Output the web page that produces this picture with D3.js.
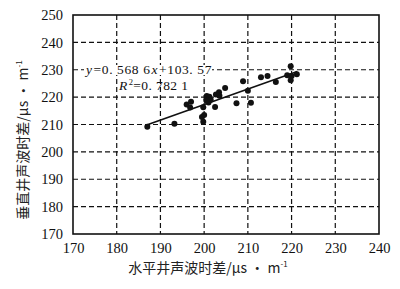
<!DOCTYPE html>
<html>
<head>
<meta charset="utf-8">
<script src="https://cdn.jsdelivr.net/npm/d3@7"></script>
<style>
  body { margin: 0; background: #fff; }
  svg { display: block; }
  .tick text { font-family: "Liberation Serif", "DejaVu Serif", serif; font-size: 14.5px; fill: #111; }
</style>
</head>
<body>
<div id="chart"></div>
<script>
// 水平井声波时差 (x) 与 垂直井声波时差 (y)
var horizontal = [187, 193.2, 196, 197, 196.8, 199.5, 199.8, 200, 199.8, 200.6,
                  201.2, 201, 202.7, 203.4, 204.8, 202.5, 201.5, 207.4, 208.9, 210,
                  210.7, 213, 214.5, 216.4, 219.8, 219, 220, 221.2, 219.8, 203.5, 200.5];
var vertical   = [209.2, 210.3, 217.3, 218.3, 216.2, 212.7, 211, 213.5, 216.3, 220.4,
                  220.1, 218, 221, 221.8, 223.3, 216.4, 219, 217.8, 225.8, 222.3,
                  217.9, 227.3, 227.7, 225.5, 231.3, 228, 227.7, 228.4, 226.2, 220.5, 218.8];
var xTicks = [170, 180, 190, 200, 210, 220, 230, 240];
var yTicks = [170, 180, 190, 200, 210, 220, 230, 240, 250];
var slope = 0.5686, intercept = 103.57, r2 = "0. 782 1";
var fitRange = [187, 221.3];

var margin = {top: 15, right: 21, bottom: 55, left: 73},
    width = 400 - margin.left - margin.right,
    height = 289 - margin.top - margin.bottom;

var svg = d3.select("#chart").append("svg")
    .attr("width", 400)
    .attr("height", 289);
var g = svg.append("g")
    .attr("transform", "translate(" + margin.left + "," + margin.top + ")");

var x = d3.scaleLinear().domain([170, 240]).range([0, width]);
var y = d3.scaleLinear().domain([170, 250]).range([height, 0]);

// 虚线网格
g.selectAll(".vgrid")
    .data(xTicks.slice(1, -1))
    .enter().append("line")
    .attr("x1", function(d) { return x(d); })
    .attr("x2", function(d) { return x(d); })
    .attr("y1", 0).attr("y2", height)
    .attr("stroke", "#111").attr("stroke-width", 1.2)
    .attr("stroke-dasharray", "5,3");
g.selectAll(".hgrid")
    .data(yTicks.slice(1, -1))
    .enter().append("line")
    .attr("y1", function(d) { return y(d); })
    .attr("y2", function(d) { return y(d); })
    .attr("x1", 0).attr("x2", width)
    .attr("stroke", "#111").attr("stroke-width", 1.2)
    .attr("stroke-dasharray", "5,3");

var xAxis = d3.axisBottom(x).tickValues(xTicks).tickSize(0).tickPadding(9);
var yAxis = d3.axisLeft(y).tickValues(yTicks).tickSize(0).tickPadding(10);

g.append("g")
    .attr("transform", "translate(0," + height + ")")
    .call(xAxis)
    .call(function(s) { s.select(".domain").remove(); });
g.append("g")
    .call(yAxis)
    .call(function(s) { s.select(".domain").remove(); });

g.append("rect")
    .attr("width", width).attr("height", height)
    .attr("fill", "none").attr("stroke", "#111").attr("stroke-width", 1.6);

// 拟合线
g.append("line")
    .attr("x1", x(fitRange[0])).attr("y1", y(slope * fitRange[0] + intercept))
    .attr("x2", x(fitRange[1])).attr("y2", y(slope * fitRange[1] + intercept))
    .attr("stroke", "#111").attr("stroke-width", 1.6);

g.selectAll(".dot")
    .data(horizontal)
    .enter().append("circle")
    .attr("cx", function(d) { return x(d); })
    .attr("cy", function(d, i) { return y(vertical[i]); })
    .attr("r", 3)
    .attr("fill", "#111");

// 公式
var serif = "'Liberation Serif', 'DejaVu Serif', serif";
var eqBg = svg.append("rect").attr("fill", "#fff");
var eq = svg.append("text")
    .attr("x", 86).attr("y", 74)
    .attr("font-family", serif).attr("font-size", 13.5).attr("fill", "#111")
    .attr("letter-spacing", 0.6);
eq.append("tspan").attr("font-style", "italic").text("y");
eq.append("tspan").attr("dx", 1).text("=0. 568 6");
eq.append("tspan").attr("dx", 1).attr("font-style", "italic").text("x");
eq.append("tspan").attr("dx", 1).text("+103. 57");

var bb = eq.node().getBBox();
eqBg.attr("x", bb.x).attr("y", bb.y + 3).attr("width", bb.width).attr("height", bb.height - 5);

var rt = svg.append("text")
    .attr("x", 119).attr("y", 90)
    .attr("font-family", serif).attr("font-size", 13.5).attr("fill", "#111")
    .attr("letter-spacing", 0.4);
rt.append("tspan").attr("font-style", "italic").text("R");
rt.append("tspan").attr("dx", 1).attr("font-size", 8.5).attr("dy", -5).text("2");
rt.append("tspan").attr("dy", 5).text("=" + r2);

// 坐标轴标题
var cjk = "'Noto Sans CJK SC', sans-serif";
var xl = svg.append("text")
    .attr("x", 208).attr("y", 273)
    .attr("text-anchor", "middle")
    .attr("font-family", cjk).attr("font-size", 14).attr("fill", "#222");
xl.append("tspan").text("水平井声波时差/μs • m");
xl.append("tspan").attr("font-size", 8).attr("dy", -6).text("-1");

var yl = svg.append("text")
    .attr("transform", "translate(28,140) rotate(-90)")
    .attr("text-anchor", "middle")
    .attr("font-family", cjk).attr("font-size", 14).attr("fill", "#222");
yl.append("tspan").text("垂直井声波时差/μs • m");
yl.append("tspan").attr("font-size", 8).attr("dy", -6).text("-1");
</script>
</body>
</html>
